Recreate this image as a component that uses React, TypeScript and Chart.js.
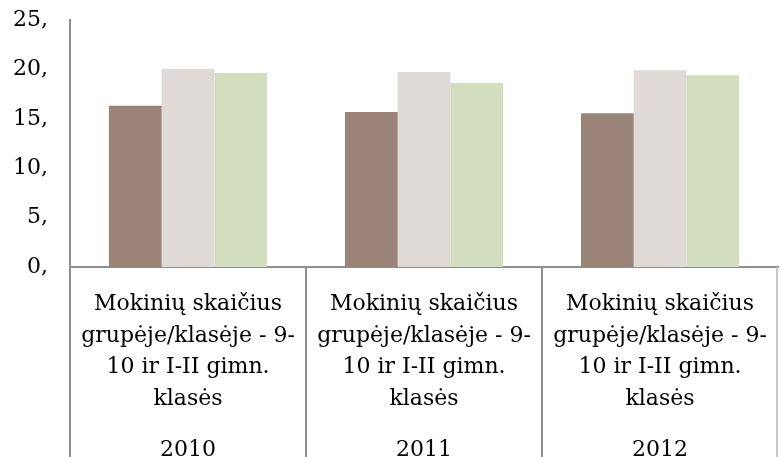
import React, { useEffect, useRef } from "react";
import { Chart, registerables } from "chart.js";

Chart.register(...registerables);

const categoryLines = ["Mokinių skaičius", "grupėje/klasėje - 9-", "10 ir I-II gimn.", "klasės"];
const years = ["2010", "2011", "2012"];
const seriesA = [16.33, 15.69, 15.56];
const seriesB = [20.07, 19.74, 19.91];
const seriesC = [19.64, 18.62, 19.4];
const yTicks = [0, 5, 10, 15, 20, 25];

const FONT = "'DejaVu Serif', serif";
const AXIS = "#8f8f8f";

const separators = {
  id: "separators",
  afterDraw(chart: any) {
    const { ctx, chartArea } = chart;
    const xs = chart.scales.x;
    const n = years.length;
    const step = (chartArea.right - chartArea.left) / n;
    ctx.save();
    ctx.strokeStyle = AXIS;
    ctx.lineWidth = 2;
    for (let i = 0; i <= n; i++) {
      let x = i < n ? xs.getPixelForValue(i) - step / 2 : xs.getPixelForValue(n - 1) + step / 2;
      if (i === n) {
        ctx.strokeStyle = "#c8c8c8";
        x -= 1;
      }
      ctx.beginPath();
      ctx.moveTo(x, chartArea.bottom);
      ctx.lineTo(x, chart.height);
      ctx.stroke();
    }
    ctx.restore();
  },
};

export default function App() {
  const ref = useRef<HTMLCanvasElement>(null);
  useEffect(() => {
    document.body.style.margin = "0";
    const chart = new Chart(ref.current as HTMLCanvasElement, {
      type: "bar",
      data: {
        labels: years.map(() => categoryLines),
        datasets: [
          { data: seriesA, backgroundColor: "#9a8477", borderWidth: 0 },
          { data: seriesB, backgroundColor: "#dfdad6", borderWidth: 0 },
          { data: seriesC, backgroundColor: "#d3debf", borderWidth: 0 },
        ],
      },
      options: {
        animation: false,
        responsive: false,
        maintainAspectRatio: false,
        layout: { padding: { top: 20, right: 1, left: 0, bottom: 0 } },
        plugins: { legend: { display: false }, tooltip: { enabled: false } },
        datasets: { bar: { categoryPercentage: 0.67, barPercentage: 1 } },
        scales: {
          x: {
            type: "category",
            position: "bottom",
            grid: { display: false },
            border: { display: true, color: AXIS, width: 2 },
            ticks: {
              color: "#000",
              font: { family: FONT, size: 22, lineHeight: 1.43 },
              padding: 14,
              maxRotation: 0,
              autoSkip: false,
            },
            afterFit: (s: any) => {
              s.height = 160;
            },
          },
          x2: {
            type: "category",
            position: "bottom",
            labels: years,
            grid: { display: false },
            border: { display: false },
            ticks: {
              color: "#000",
              font: { family: FONT, size: 22, lineHeight: 1.2 },
              padding: 2,
              maxRotation: 0,
              autoSkip: false,
            },
            afterFit: (s: any) => {
              s.height = 30;
            },
          },
          y: {
            min: yTicks[0],
            max: yTicks[yTicks.length - 1],
            grid: { display: false, drawTicks: false },
            border: { display: true, color: AXIS, width: 2 },
            afterBuildTicks: (s: any) => {
              s.ticks = yTicks.map((v) => ({ value: v }));
            },
            ticks: {
              color: "#000",
              font: { family: FONT, size: 22 },
              padding: 22,
              callback: (v: any) => v + ",",
            },
            afterFit: (s: any) => {
              s.width = 70;
              s.paddingTop = 0;
              s.paddingBottom = 0;
            },
          },
        },
      },
      plugins: [separators],
    });
    return () => chart.destroy();
  }, []);
  return (
    <div style={{ width: 781, height: 457 }}>
      <canvas ref={ref} width={781} height={457} />
    </div>
  );
}
